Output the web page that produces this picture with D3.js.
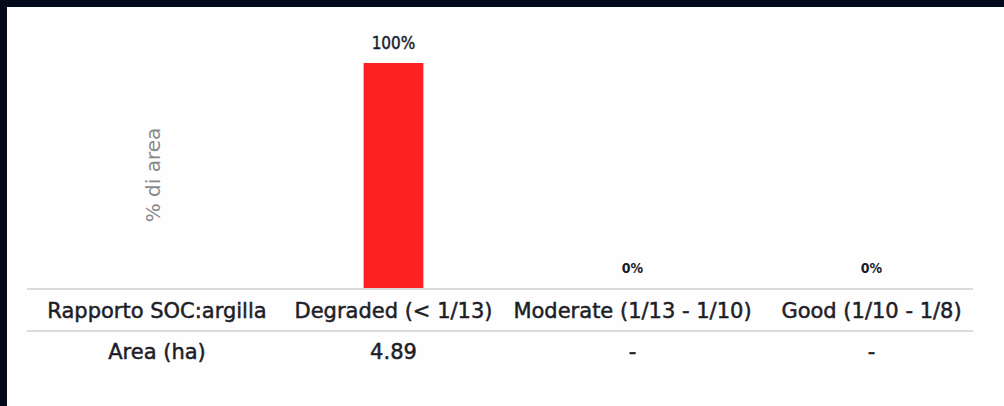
<!DOCTYPE html>
<html>
<head>
<meta charset="utf-8">
<script src="https://cdn.jsdelivr.net/npm/d3@7"></script>
<style>
html,body{margin:0;padding:0;background:#030a19;}
svg{display:block;}
</style>
</head>
<body>
<svg id="chart" width="1004" height="406"></svg>
<script>
const categories = ["Degraded (< 1/13)", "Moderate (1/13 - 1/10)", "Good (1/10 - 1/8)"];
const percentValues = [100, 0, 0];
const percentLabels = ["100%", "0%", "0%"];
const areaValues = ["4.89", "-", "-"];
const rowHeaders = ["Rapporto SOC:argilla", "Area (ha)"];
const yAxisTitle = "% di area";

const svg = d3.select("#chart");
const FONT = "'DejaVu Sans',Tahoma,sans-serif";
const FONT_C = "'DejaVu Sans Condensed','DejaVu Sans',sans-serif";

// white panel
svg.append("rect").attr("x", 7).attr("y", 7).attr("width", 997).attr("height", 399).attr("fill", "#fefefe");

const x = d3.scaleBand().domain(categories).range([274, 991]).paddingInner(0.75).paddingOuter(0.375);
const y = d3.scaleLinear().domain([0, 100]).range([289, 63]);

// bars
svg.selectAll("rect.bar").data(categories).enter().append("rect")
  .attr("class", "bar")
  .attr("x", d => x(d))
  .attr("width", x.bandwidth())
  .attr("y", (d, i) => y(percentValues[i]))
  .attr("height", (d, i) => y(0) - y(percentValues[i]))
  .attr("fill", "#fe2124");

// value labels
svg.selectAll("text.val").data(categories).enter().append("text")
  .attr("class", "val")
  .attr("x", d => x(d) + x.bandwidth() / 2)
  .attr("y", (d, i) => y(percentValues[i]) - (percentValues[i] > 0 ? 14 : 16))
  .attr("text-anchor", "middle")
  .attr("font-family", FONT_C)
  .attr("font-size", (d, i) => percentValues[i] > 0 ? 17 : 14)
  .attr("font-weight", (d, i) => percentValues[i] > 0 ? "normal" : "bold")
  .attr("fill", "#1a1a2a")
  .attr("stroke", "#1a1a2a")
  .attr("stroke-width", (d, i) => percentValues[i] > 0 ? 0.4 : 0)
  .text((d, i) => percentLabels[i]);

// y axis title
svg.append("text")
  .attr("transform", "translate(160,175) rotate(-90)")
  .attr("text-anchor", "middle")
  .attr("font-family", FONT)
  .attr("font-size", 20)
  .attr("fill", "#8a8a8a")
  .text(yAxisTitle);

// table lines
const lineX0 = 27, lineX1 = 973;
[289, 331].forEach(ly => {
  svg.append("line").attr("x1", lineX0).attr("x2", lineX1).attr("y1", ly).attr("y2", ly)
    .attr("stroke", "#dcdcdc").attr("stroke-width", 2);
});

const headerX = 157;
const rowBaselines = [318, 359];

function cellText(xc, yb, txt) {
  return svg.append("text")
    .attr("x", xc).attr("y", yb)
    .attr("text-anchor", "middle")
    .attr("font-family", FONT)
    .attr("font-size", 21)
    .attr("fill", "#1e1e28")
    .attr("stroke", "#1e1e28")
    .attr("stroke-width", 0.5)
    .text(txt);
}

cellText(headerX, rowBaselines[0], rowHeaders[0]);
cellText(headerX, rowBaselines[1], rowHeaders[1]);
categories.forEach((c, i) => {
  cellText(x(c) + x.bandwidth() / 2, rowBaselines[0], c);
  cellText(x(c) + x.bandwidth() / 2, rowBaselines[1], areaValues[i]);
});
</script>
</body>
</html>
